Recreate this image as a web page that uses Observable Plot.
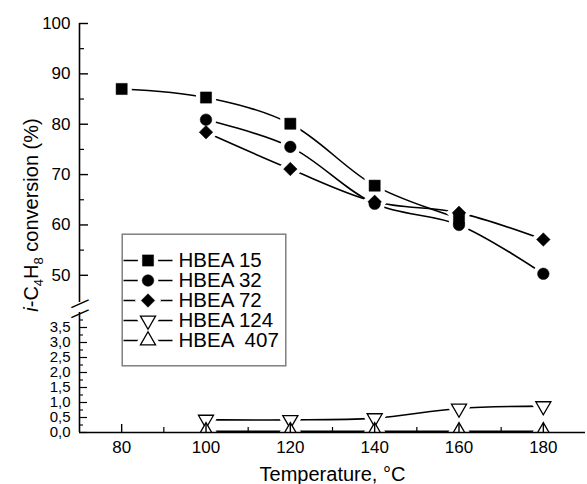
<!DOCTYPE html>
<html><head><meta charset="utf-8">
<script src="https://cdn.jsdelivr.net/npm/d3@7"></script>
<script src="https://cdn.jsdelivr.net/npm/@observablehq/plot@0.6"></script>
<style>
body{margin:0;background:#fff;font-family:"Liberation Sans",Arial,sans-serif;}
#wrap{position:relative;width:587px;height:484px;}
#legend{position:absolute;left:121px;top:233px;}
svg text{white-space:pre;}
</style></head><body><div id="wrap"></div>
<script>
// ---- data ----
const temperatures = [80, 100, 120, 140, 160, 180];
const seriesNames = ["HBEA 15", "HBEA 32", "HBEA 72", "HBEA 124", "HBEA  407"];
const hbea15  = [87.0, 85.3, 80.1, 67.8, 61.3, null];
const hbea32  = [null, 80.9, 75.5, 64.2, 60.0, 50.3];
const hbea72  = [null, 78.4, 71.1, 64.6, 62.4, 57.1];
const hbea124 = [null, 0.43, 0.42, 0.48, 0.8, 0.88];
const hbea407 = [null, 0.04, 0.04, 0.04, 0.04, 0.04];
const xMajor = [80, 100, 120, 140, 160, 180];
const xMinor = [90, 110, 130, 150, 170];
const upperMajor = [50, 60, 70, 80, 90, 100];
const upperMinor = [55, 65, 75, 85, 95];
const lowerMajor = [0, 0.5, 1, 1.5, 2, 2.5, 3, 3.5];
const lowerMinor = [0.25, 0.75, 1.25, 1.75, 2.25, 2.75, 3.25, 3.75];
const xDomain = [70, 190];
const lowerDomain = [0, 4];
const upperDomain = [44.6, 100];

const seriesValues = [hbea15, hbea32, hbea72, hbea124, hbea407];
const table = [];
seriesNames.forEach((name, k) => temperatures.forEach((t, i) => {
  const v = seriesValues[k][i];
  if (v != null) table.push({series: name, temperature: t, conversion: v});
}));

const styles = {
  "HBEA 15":   {symbol: "square",   r: 6.3, fill: "black", rotate: 0},
  "HBEA 32":   {symbol: "circle",   r: 5.8, fill: "black", rotate: 0},
  "HBEA 72":   {symbol: "diamond2", r: 6.1, fill: "black", rotate: 0},
  "HBEA 124":  {symbol: "triangle", r: 5.6, fill: "white", rotate: 180},
  "HBEA  407": {symbol: "triangle", r: 5.6, fill: "white", rotate: 0}
};

function seriesDots(data, xk, yk, haloOnly, clipLower) {
  const marks = [];
  seriesNames.forEach(name => {
    const s = styles[name];
    const rows = data.filter(d => d.series === name);
    const clip = clipLower && name === "HBEA  407";
    if (haloOnly) {
      marks.push(Plot.dot(rows, {x: xk, y: yk, symbol: s.symbol, r: s.r, rotate: s.rotate,
        fill: "white", stroke: "white", strokeWidth: 9, clip}));
    } else {
      marks.push(Plot.dot(rows, {x: xk, y: yk, symbol: s.symbol, r: s.r, rotate: s.rotate,
        fill: s.fill, stroke: "black", strokeWidth: s.fill === "white" ? 1.3 : 0.5, clip}));
    }
  });
  return marks;
}

const fmtLower = d => d.toFixed(1).replace(".", ",");

const chart = Plot.plot({
  width: 587, height: 484,
  marginLeft: 79, marginRight: 2, marginTop: 23, marginBottom: 52,
  style: {fontFamily: "Liberation Sans, Arial, sans-serif", background: "white", color: "black"},
  x: {type: "linear", domain: xDomain, axis: null},
  y: {type: "linear", domain: [lowerDomain[0], lowerDomain[1], upperDomain[0], upperDomain[1]],
      range: [432, 312, 302, 23], axis: null},
  marks: [
    Plot.line(table, {x: "temperature", y: "conversion", z: "series", curve: "catmull-rom",
      stroke: "black", strokeWidth: 1.6}),
    ...seriesDots(table, "temperature", "conversion", true, true),
    ...seriesDots(table, "temperature", "conversion", false, true),
    // axes lines
    Plot.ruleY([lowerDomain[0]], {stroke: "black", strokeWidth: 1.6}),
    Plot.ruleX([{x: xDomain[0], y1: upperDomain[0], y2: upperDomain[1]}], {x: "x", y1: "y1", y2: "y2", stroke: "black", strokeWidth: 1.6}),
    Plot.ruleX([{x: xDomain[0], y1: lowerDomain[0], y2: lowerDomain[1]}], {x: "x", y1: "y1", y2: "y2", stroke: "black", strokeWidth: 1.6}),
    // break marks
    Plot.text([upperDomain[0], lowerDomain[1]], {x: xDomain[0], y: d => d, text: d => "\u2014", rotate: -24, fontSize: 19}),
    // x ticks
    Plot.ruleX(xMajor, {x: d => d, y1: 0, y2: 0, insetTop: -8, stroke: "black", strokeWidth: 1.4}),
    Plot.ruleX(xMinor, {x: d => d, y1: 0, y2: 0, insetTop: -5, stroke: "black", strokeWidth: 1.2}),
    Plot.text(xMajor, {x: d => d, y: 0, text: d => String(d), dy: 15, fontSize: 17}),
    // y ticks
    Plot.ruleY(upperMajor, {y: d => d, x1: xDomain[0], x2: xDomain[0], insetRight: -9, stroke: "black", strokeWidth: 1.4}),
    Plot.ruleY(upperMinor, {y: d => d, x1: xDomain[0], x2: xDomain[0], insetRight: -5, stroke: "black", strokeWidth: 1.2}),
    Plot.ruleY(lowerMajor, {y: d => d, x1: xDomain[0], x2: xDomain[0], insetRight: -8, stroke: "black", strokeWidth: 1.2}),
    Plot.ruleY(lowerMinor, {y: d => d, x1: xDomain[0], x2: xDomain[0], insetRight: -4, stroke: "black", strokeWidth: 1.1}),
    Plot.text(upperMajor, {x: xDomain[0], y: d => d, text: d => String(d), textAnchor: "end", dx: -9, fontSize: 17}),
    Plot.text(lowerMajor, {x: xDomain[0], y: d => d, text: fmtLower, textAnchor: "end", dx: -9, fontSize: 15}),
    // x title
    Plot.text(["Temperature, \u00B0C"], {frameAnchor: "bottom", text: d => d, dy: 48, fontSize: 20})
  ]
});

// y title with italic i and subscripts
const yt = d3.select(chart).append("text")
  .attr("transform", "translate(38,215) rotate(-90)")
  .attr("text-anchor", "middle")
  .attr("font-size", 20)
  .attr("fill", "black");
yt.append("tspan").attr("font-style", "italic").text("i");
yt.append("tspan").text("-C");
yt.append("tspan").attr("font-size", 13).attr("dy", 5).text("4");
yt.append("tspan").attr("dy", -5).text("H");
yt.append("tspan").attr("font-size", 13).attr("dy", 5).text("8");
yt.append("tspan").attr("dy", -5).text(" conversion (%)");

const wrap = document.getElementById("wrap");
wrap.appendChild(chart);

// legend
const legendRows = seriesNames.map(name => ({series: name, pos: 0.5}));
const legend = Plot.plot({
  width: 165, height: 133, margin: 0,
  style: {fontFamily: "Liberation Sans, Arial, sans-serif", background: "white", color: "black", overflow: "visible"},
  x: {type: "linear", domain: [0, 1], range: [2, 51], axis: null},
  y: {type: "point", domain: seriesNames, range: [15, 119], axis: null},
  marks: [
    Plot.frame({stroke: "#777", strokeWidth: 1.4, inset: 0.7}),
    Plot.link(seriesNames, {x1: 0, x2: 1, y1: d => d, y2: d => d, stroke: "black", strokeWidth: 1.6}),
    ...seriesDots(legendRows, "pos", "series", true, false),
    ...seriesDots(legendRows, "pos", "series", false, false),
    Plot.text(seriesNames, {x: 1, y: d => d, text: d => d, dx: 6, textAnchor: "start", fontSize: 20.5})
  ]
});
legend.id = "legend";
wrap.appendChild(legend);
</script></body></html>
